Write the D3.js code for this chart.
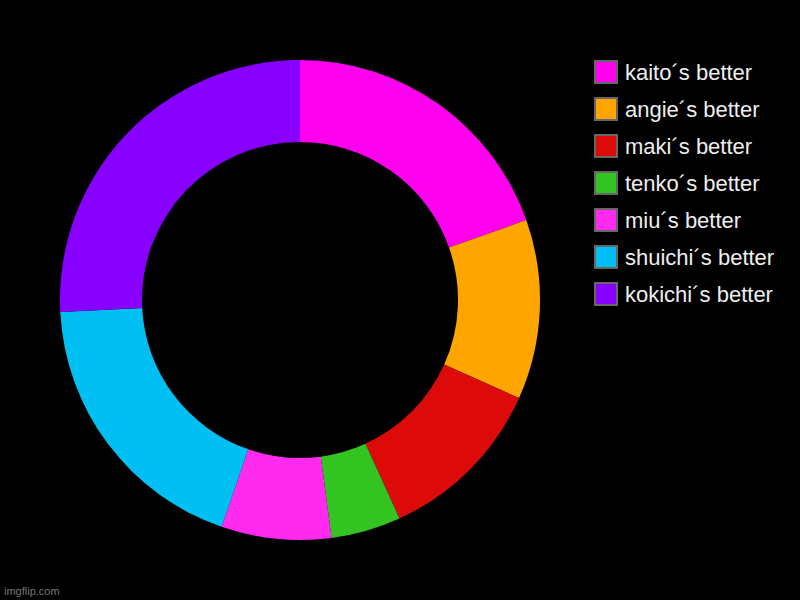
<!DOCTYPE html>
<html lang="en">
<head>
<meta charset="utf-8">
<title>Donut</title>
<script src="https://d3js.org/d3.v7.min.js"></script>
<style>
  body { margin: 0; background: #000; }
  text { font-family: "Liberation Sans", Arial, sans-serif; }
</style>
</head>
<body>
<script>
  var categories = ["kaito´s better", "angie´s better", "maki´s better", "tenko´s better",
                    "miu´s better", "shuichi´s better", "kokichi´s better"];
  var values = [19.6, 12.1, 11.5, 4.7, 7.4, 18.9, 25.8];
  var colors = ["#ff00ee", "#ffa500", "#dd0a0a", "#33c422", "#ff2aee", "#00bff2", "#8800ff"];

  var width = 800, height = 600;
  var svg = d3.select("body").append("svg")
      .attr("width", width).attr("height", height);

  svg.append("rect").attr("width", width).attr("height", height).attr("fill", "#000");

  var pie = d3.pie().sort(null).value(function(d) { return d; });
  var arc = d3.arc().innerRadius(158).outerRadius(240);
  var color = d3.scaleOrdinal().domain(categories).range(colors);

  var g = svg.append("g").attr("transform", "translate(300,300)");
  g.selectAll("path")
    .data(pie(values))
    .enter().append("path")
    .attr("d", arc)
    .attr("fill", function(d, i) { return color(categories[i]); });

  var legend = svg.append("g").attr("transform", "translate(595,61)");
  var item = legend.selectAll("g")
    .data(categories)
    .enter().append("g")
    .attr("transform", function(d, i) { return "translate(0," + i * 37 + ")"; });

  item.append("rect")
    .attr("width", 22).attr("height", 22)
    .attr("fill", function(d) { return color(d); })
    .attr("stroke", "#666").attr("stroke-width", 2);

  item.append("text")
    .attr("x", 30).attr("y", 19)
    .attr("font-size", 22)
    .attr("fill", "#eeeeee")
    .text(function(d) { return d; });

  svg.append("text")
    .attr("x", 4).attr("y", 595)
    .attr("font-size", 11)
    .attr("fill", "#777")
    .text("imgflip.com");
</script>
</body>
</html>
